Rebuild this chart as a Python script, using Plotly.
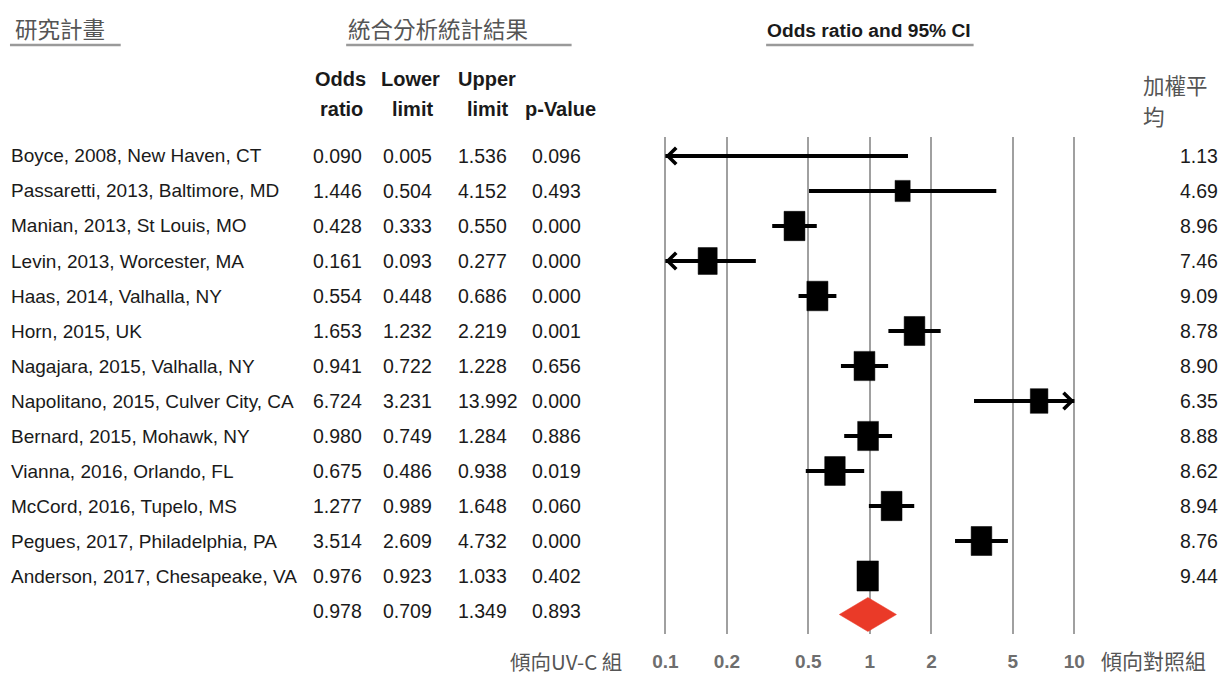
import math
import plotly.graph_objects as go

# ---------------- data ----------------
studies = [
    "Boyce, 2008, New Haven, CT",
    "Passaretti, 2013, Baltimore, MD",
    "Manian, 2013, St Louis, MO",
    "Levin, 2013, Worcester, MA",
    "Haas, 2014, Valhalla, NY",
    "Horn, 2015, UK",
    "Nagajara, 2015, Valhalla, NY",
    "Napolitano, 2015, Culver City, CA",
    "Bernard, 2015, Mohawk, NY",
    "Vianna, 2016, Orlando, FL",
    "McCord, 2016, Tupelo, MS",
    "Pegues, 2017, Philadelphia, PA",
    "Anderson, 2017, Chesapeake, VA",
]
odds_ratio = [0.090, 1.446, 0.428, 0.161, 0.554, 1.653, 0.941, 6.724, 0.980, 0.675, 1.277, 3.514, 0.976]
lower_limit = [0.005, 0.504, 0.333, 0.093, 0.448, 1.232, 0.722, 3.231, 0.749, 0.486, 0.989, 2.609, 0.923]
upper_limit = [1.536, 4.152, 0.550, 0.277, 0.686, 2.219, 1.228, 13.992, 1.284, 0.938, 1.648, 4.732, 1.033]
p_values = [0.096, 0.493, 0.000, 0.000, 0.000, 0.001, 0.656, 0.000, 0.886, 0.019, 0.060, 0.000, 0.402]
weights = [1.13, 4.69, 8.96, 7.46, 9.09, 8.78, 8.90, 6.35, 8.88, 8.62, 8.94, 8.76, 9.44]

summary_or = 0.978
summary_lower = 0.709
summary_upper = 1.349
summary_p = 0.893

tick_vals = [0.1, 0.2, 0.5, 1, 2, 5, 10]
tick_text = ["0.1", "0.2", "0.5", "1", "2", "5", "10"]

# ---------------- layout constants ----------------
W, H = 1222, 677
X_MIN, X_MAX = 0.1, 10          # visible CI range
PX_PER_DECADE = 205.0
X_CENTER_PX = 869.0             # pixel of OR = 1
ROW0_PX, PX_PER_ROW = 156.0, 35.0
PLOT_TOP_PX, PLOT_BOT_PX = 137.0, 634.0
PAD_DEC = 0.05

LATIN = "Liberation Sans, Arial, sans-serif"
CJK = "Noto Sans CJK TC, Noto Sans CJK SC, sans-serif"
TXT = "#1a1a1a"
GREY_TXT = "#555555"

x_left_px = X_CENTER_PX - (1 + PAD_DEC) * PX_PER_DECADE
x_right_px = X_CENTER_PX + (1 + PAD_DEC) * PX_PER_DECADE
y_top_row = (PLOT_TOP_PX - ROW0_PX) / PX_PER_ROW
y_bot_row = (PLOT_BOT_PX - ROW0_PX) / PX_PER_ROW

n = len(studies)
rows = list(range(n))
summary_row = n


def px(x):
    return x / W


def py(y):
    return 1 - y / H


fig = go.Figure()

# ---- CI lines (clipped to visible range) ----
lx, ly = [], []
for r, lo, hi in zip(rows, lower_limit, upper_limit):
    lx += [max(lo, X_MIN), min(hi, X_MAX), None]
    ly += [r, r, None]
fig.add_trace(go.Scatter(x=lx, y=ly, mode="lines",
                         line=dict(color="black", width=4),
                         hoverinfo="skip", showlegend=False))

# ---- weighted boxes ----
bx, by = [], []
for r, est, w in zip(rows, odds_ratio, weights):
    if est < X_MIN or est > X_MAX:
        continue
    hw = 3.5 * math.sqrt(w) / PX_PER_DECADE       # half width in decades
    hh = 4.9 * math.sqrt(w) / PX_PER_ROW          # half height in rows
    x0, x1 = est * 10 ** (-hw), est * 10 ** hw
    bx += [x0, x1, x1, x0, x0, None]
    by += [r - hh, r - hh, r + hh, r + hh, r - hh, None]
fig.add_trace(go.Scatter(x=bx, y=by, mode="lines", fill="toself",
                         fillcolor="black", line=dict(color="black", width=0.5),
                         hoverinfo="skip", showlegend=False))

# ---- summary diamond ----
dh = 17.0 / PX_PER_ROW
dy = summary_row + 0.1
fig.add_trace(go.Scatter(
    x=[summary_lower, summary_or, summary_upper, summary_or, summary_lower],
    y=[dy, dy - dh, dy, dy + dh, dy],
    mode="lines", fill="toself", fillcolor="#EA3A28",
    line=dict(color="#EA3A28", width=0.5), hoverinfo="skip", showlegend=False))

annotations = []

# ---- arrows for CIs beyond the axis ----
for r, lo, hi in zip(rows, lower_limit, upper_limit):
    if lo < X_MIN:
        annotations.append(dict(x=math.log10(X_MIN), y=r, xref="x", yref="y",
                                ax=22, ay=0, text="", showarrow=True,
                                arrowhead=4, arrowsize=1, arrowwidth=3.2,
                                arrowcolor="black", standoff=0))
    if hi > X_MAX:
        annotations.append(dict(x=math.log10(X_MAX), y=r, xref="x", yref="y",
                                ax=-22, ay=0, text="", showarrow=True,
                                arrowhead=4, arrowsize=1, arrowwidth=3.2,
                                arrowcolor="black", standoff=0))


def txt(text, x, y, yref="paper", xanchor="left", size=19.5, color=TXT,
        family=LATIN, align="left"):
    annotations.append(dict(text=text, x=px(x), y=y, xref="paper", yref=yref,
                            xanchor=xanchor, yanchor="middle", showarrow=False,
                            align=align,
                            font=dict(family=family, size=size, color=color)))


# ---- table columns ----
col_name, col_or, col_lo, col_hi, col_p, col_w = 6, 309, 379, 454, 528, 1220
for r in rows:
    txt(studies[r], col_name, r, yref="y", size=19)
    txt(f"{odds_ratio[r]:.3f}", col_or, r, yref="y")
    txt(f"{lower_limit[r]:.3f}", col_lo, r, yref="y")
    txt(f"{upper_limit[r]:.3f}", col_hi, r, yref="y")
    txt(f"{p_values[r]:.3f}", col_p, r, yref="y")
    txt(f"{weights[r]:.2f}", col_w, r, yref="y", xanchor="right")
txt(f"{summary_or:.3f}", col_or, summary_row, yref="y")
txt(f"{summary_lower:.3f}", col_lo, summary_row, yref="y")
txt(f"{summary_upper:.3f}", col_hi, summary_row, yref="y")
txt(f"{summary_p:.3f}", col_p, summary_row, yref="y")

# ---- column headers ----
HB = 20
txt("<b>Odds</b>", 338, py(79), xanchor="center", size=HB)
txt("<b>ratio</b>", 339, py(109), xanchor="center", size=HB)
txt("<b>Lower</b>", 409, py(79), xanchor="center", size=HB)
txt("<b>limit</b>", 411, py(109), xanchor="center", size=HB)
txt("<b>Upper</b>", 485, py(79), xanchor="center", size=HB)
txt("<b>limit</b>", 486, py(109), xanchor="center", size=HB)
txt("<b>p-Value</b>", 559, py(109), xanchor="center", size=HB)

# ---- section titles ----
txt("研究計畫", 10, py(28), size=22.5, color=GREY_TXT, family=CJK)
txt("統合分析統計結果", 344, py(28), size=22.5, color=GREY_TXT, family=CJK)
txt("<b>Odds ratio and 95% CI</b>", 764, py(31), size=19.2)
txt("加權平", 1141, py(84), size=21.5, color=GREY_TXT, family=CJK)
txt("均", 1141, py(115), size=21.5, color=GREY_TXT, family=CJK)
txt("傾向UV-C 組", 506, py(661), size=20.5, color=GREY_TXT, family=CJK)
txt("傾向對照組", 1099, py(660), size=21, color=GREY_TXT, family=CJK)

shapes = [
    dict(type="line", xref="paper", yref="paper", x0=px(7), x1=px(118),
         y0=py(45), y1=py(45), line=dict(color="#9a9a9a", width=2.5)),
    dict(type="line", xref="paper", yref="paper", x0=px(344), x1=px(570),
         y0=py(45), y1=py(45), line=dict(color="#9a9a9a", width=2.5)),
    dict(type="line", xref="paper", yref="paper", x0=px(765), x1=px(973),
         y0=py(45), y1=py(45), line=dict(color="#9a9a9a", width=2.5)),
]

fig.update_layout(
    width=W, height=H, autosize=False,
    margin=dict(l=0, r=0, t=0, b=0),
    paper_bgcolor="white", plot_bgcolor="white",
    showlegend=False,
    annotations=annotations,
    shapes=shapes,
    xaxis=dict(type="log",
               domain=[px(x_left_px), px(x_right_px)],
               range=[math.log10(X_MIN) - PAD_DEC, math.log10(X_MAX) + PAD_DEC],
               tickvals=tick_vals, ticktext=tick_text,
               showgrid=True, gridcolor="#a0a0a0", gridwidth=2,
               zeroline=False, showline=False,
               ticks="outside", ticklen=10, tickcolor="rgba(0,0,0,0)",
               tickfont=dict(family=LATIN, size=19, color="#6e6e6e", weight="bold"),
               fixedrange=True),
    yaxis=dict(range=[y_bot_row, y_top_row],
               domain=[py(PLOT_BOT_PX), py(PLOT_TOP_PX)],
               visible=False, showgrid=False, zeroline=False, fixedrange=True),
)

fig.write_html(
    "out.html",
    config={"displayModeBar": False},
    post_script="document.body.style.margin='0';document.body.style.overflow='hidden';",
)
